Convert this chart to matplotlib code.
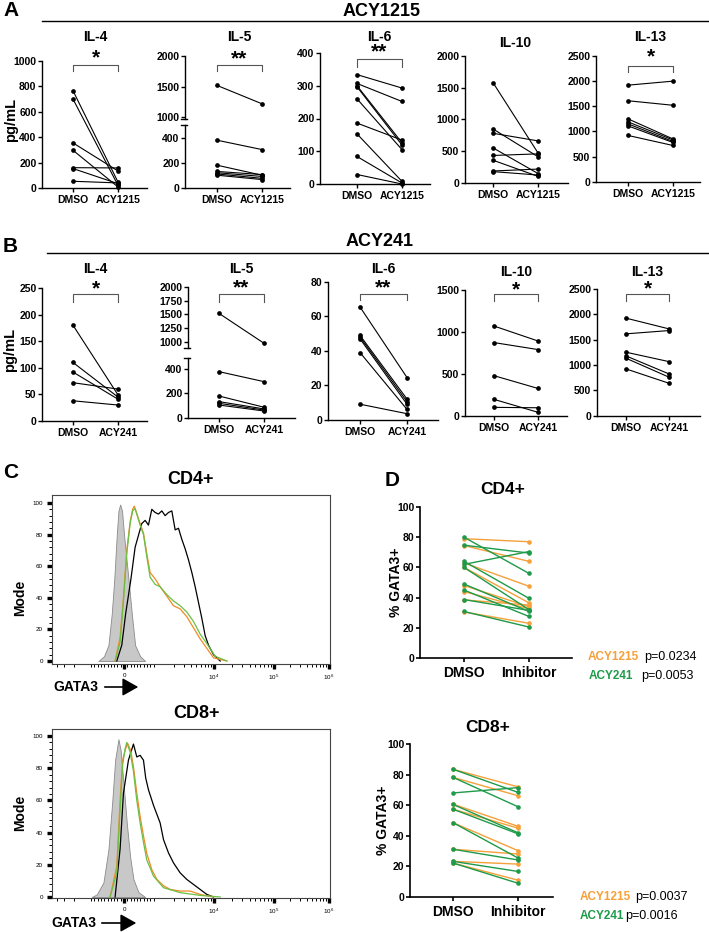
import numpy as np
import matplotlib
matplotlib.use('Agg')
import matplotlib.pyplot as plt
from matplotlib.lines import Line2D
from matplotlib.patches import FancyArrowPatch

plt.rcParams['font.family'] = ['Liberation Sans', 'DejaVu Sans']
plt.rcParams['font.weight'] = 'bold'

# %% data: panel A (ACY1215), pg/mL, DMSO vs drug per donor
a_il4_dmso = [766, 700, 355, 297, 160, 153, 53]
a_il4_drug = [47, 21, 134, 8, 158, 34, 40]
a_il5_dmso = [1520, 380, 180, 130, 120, 110, 100]
a_il5_drug = [1220, 305, 100, 105, 90, 75, 65]
a_il6_dmso = [334, 307, 300, 297, 260, 186, 153, 84, 29]
a_il6_drug = [293, 252, 126, 119, 105, 134, 8, 3, 0]
a_il10_dmso = [1580, 848, 780, 550, 430, 355, 185, 175]
a_il10_drug = [470, 410, 660, 145, 455, 100, 215, 121]
a_il13_dmso = [1920, 1610, 1250, 1190, 1150, 1110, 920]
a_il13_drug = [2000, 1520, 850, 830, 800, 780, 720]

# panel B (ACY241)
b_il4_dmso = [180, 110, 92, 72, 38]
b_il4_drug = [49, 45, 41, 60, 30]
b_il5_dmso = [1520, 378, 178, 132, 118, 104]
b_il5_drug = [976, 296, 86, 72, 63, 55]
b_il6_dmso = [65.5, 49, 48, 47, 39, 9]
b_il6_drug = [24.5, 12, 10.5, 9, 6, 3.5]
b_il10_dmso = [1071, 874, 480, 198, 103]
b_il10_drug = [893, 791, 328, 44, 98]
b_il13_dmso = [1925, 1615, 1253, 1180, 1134, 923]
b_il13_drug = [1713, 1680, 1067, 824, 760, 640]

# panel C: GATA3 histograms (display channel 0-1000, % of mode)
c_cd4_x_iso = [167, 187, 203, 215, 224, 233, 239, 245, 252, 259, 275, 287, 299, 317, 335]
c_cd4_y_iso = [0, 3, 10, 30, 52, 80, 95, 99, 95, 80, 52, 30, 10, 3, 0]
c_cd4_x_1215 = [227, 245, 257, 269, 281, 290, 296, 317, 329, 341, 353, 371, 389, 413, 437, 461, 485, 509, 533, 557, 581, 629]
c_cd4_y_1215 = [0, 15, 40, 70, 88, 96, 98, 87, 81, 68, 56, 52, 47, 41, 35, 33, 28, 21, 14, 8, 2, 0]
c_cd4_x_241 = [227, 245, 257, 269, 281, 290, 299, 317, 329, 341, 353, 371, 389, 413, 437, 461, 485, 509, 533, 557, 587, 629]
c_cd4_y_241 = [0, 12, 38, 68, 87, 95, 96.5, 86, 80, 66, 53, 48.5, 47, 42, 38, 35, 31, 25, 17, 11, 3, 0]
c_cd4_x_dmso = [233, 251, 265, 284, 299, 323, 335, 347, 359, 371, 383, 395, 407, 419, 431, 443, 455, 467, 479, 491, 503, 515, 527, 539, 551, 563, 581, 605]
c_cd4_y_dmso = [0, 10, 30, 52, 72, 87, 89, 86, 96, 94, 93, 95, 92, 94, 95, 83, 84, 77, 71, 64, 56, 47, 37, 27, 16, 10, 4, 0]

c_cd8_x_iso = [143, 161, 185, 203, 217, 227, 239, 247, 257, 269, 281, 293, 311, 335]
c_cd8_y_iso = [0, 1.6, 9, 29.5, 60, 85, 98, 91, 71, 46, 25, 11, 3, 0]
c_cd8_x_1215 = [209, 233, 245, 254, 263, 272, 283, 293, 305, 317, 329, 341, 359, 377, 401, 425, 461, 497, 533, 581]
c_cd8_y_1215 = [0, 19, 60, 85, 91, 95.5, 91, 81, 64.5, 50, 38, 27, 17, 11, 7, 4.7, 3.7, 3.7, 1.6, 0]
c_cd8_x_241 = [209, 233, 245, 254, 263, 269, 281, 293, 305, 317, 329, 341, 365, 401, 461, 533, 605]
c_cd8_y_241 = [0, 15, 55, 82, 92, 96, 90, 78, 60, 46, 34, 23, 13, 5.8, 2.7, 1, 0]
c_cd8_x_dmso = [227, 245, 257, 275, 293, 305, 317, 329, 337, 347, 365, 389, 401, 419, 437, 461, 485, 509, 533, 557, 581]
c_cd8_y_dmso = [0, 30, 64.5, 85, 95, 87, 88, 85, 74, 66.6, 57, 46, 35.7, 27.4, 21.2, 15, 10.9, 7.8, 4.7, 1.6, 0]
c_tick_pos = [259, 581, 797, 995]
c_tick_labels = ['0', r'$\mathregular{10^{4}}$', r'$\mathregular{10^{5}}$', r'$\mathregular{10^{6}}$']

# panel D: % GATA3+
d_cd4_1215_dmso = [79, 74.5, 63, 60, 48, 44, 38.5, 30.5]
d_cd4_1215_inh = [77, 64, 47.5, 36.5, 34, 32.5, 35, 23]
d_cd4_241_dmso = [80, 74.7, 62, 64, 60, 49, 45, 38.7, 30.8]
d_cd4_241_inh = [56, 69.5, 70.5, 39.5, 32, 30.8, 27.5, 31.5, 20.5]
d_cd8_1215_dmso = [83.5, 78.2, 60.7, 57.4, 48.6, 31.2, 23.3, 22.2]
d_cd8_1215_inh = [72, 66.2, 46.2, 45, 30.3, 28.1, 21.5, 11]
d_cd8_241_dmso = [83.5, 78.2, 68, 60.5, 57.4, 48.6, 31.2, 23.3, 22.2]
d_cd8_241_inh = [68.4, 59, 71.5, 42, 41.3, 25.5, 24.2, 16.7, 9]

ORANGE = '#f5a03a'
GREEN = '#1e9a4a'

W, H = 709, 932
fig = plt.figure(figsize=(W / 100, H / 100), dpi=100)


def fx(px):
    return px / W


def fy(py):
    return 1 - py / H


def box(l, t, r, b):
    return [l / W, 1 - b / H, (r - l) / W, (b - t) / H]


def paired(L, D, C, R, top, bottom, ylim, yticks, before, after, drug,
           xaxis=True, clip=False, color='black', ms=3.4, lw=0.8):
    ax = fig.add_axes(box(L, top, R, bottom))
    u = C - D
    ax.set_xlim((L - D) / u, (R - D) / u)
    ax.set_ylim(ylim)
    ax.set_yticks(yticks)
    ax.patch.set_alpha(0)
    for s in ['top', 'right']:
        ax.spines[s].set_visible(False)
    ax.spines['left'].set_linewidth(1.0)
    ax.spines['bottom'].set_linewidth(1.0)
    ax.tick_params(axis='y', length=3, width=1, labelsize=7.5, pad=1)
    if xaxis:
        ax.set_xticks([0, 1], ['DMSO', drug])
        ax.tick_params(axis='x', length=3, width=1, labelsize=7.5, pad=2)
    else:
        ax.spines['bottom'].set_visible(False)
        ax.set_xticks([])
    for b, a in zip(before, after):
        ax.plot([0, 1], [b, a], color=color, lw=lw, marker='o', ms=ms,
                mew=0, clip_on=clip)
    return ax


def bracket(ax, top, bottom, br, leg, star_py, stars):
    f = lambda py: (bottom - py) / (bottom - top)
    tr = ax.get_xaxis_transform()
    ax.plot([0, 0, 1, 1], [f(leg), f(br), f(br), f(leg)], transform=tr,
            color='#555555', lw=0.8, clip_on=False)
    ax.text(0.5, f(star_py), stars, transform=tr, ha='center', va='center',
            fontsize=15)


def title(D, C, py, s):
    fig.text(fx((D + C) / 2), fy(py), s, ha='center', va='center', fontsize=10)


def break_mark(ax, L, R, y):
    w = R - L
    ax.plot([-4 / w, 2 / w], [y, y], transform=ax.transAxes, color='black',
            lw=1.0, clip_on=False)


def header(letter, lx, ly, text, tx, ty, line_x, line_y):
    fig.text(fx(lx), fy(ly), letter, fontsize=15, va='center', ha='left')
    fig.text(fx(tx), fy(ty), text, fontsize=13, va='center', ha='center')
    fig.add_artist(Line2D([fx(line_x), 1], [fy(line_y), fy(line_y)],
                          color='black', lw=1.0))


# %% panel A
header('A', 3, 11, 'ACY1215', 382, 11, 42, 20.7)
fig.text(fx(11), fy(120), 'pg/mL', rotation=90, fontsize=10.5, ha='center', va='center')

ax = paired(42, 73, 118, 147, 61, 188, (0, 1000), range(0, 1001, 200),
            a_il4_dmso, a_il4_drug, 'ACY1215')
bracket(ax, 61, 188, 65, 71, 58, '*')
title(73, 118, 37.3, 'IL-4')

ax = paired(185, 217, 262, 290, 125.2, 187.7, (0, 500), [0, 200, 400],
            a_il5_dmso, a_il5_drug, 'ACY1215', clip=True)
break_mark(ax, 185, 290, 1)
ax = paired(185, 217, 262, 290, 56, 119.3, (967, 2000), [1000, 1500, 2000],
            a_il5_dmso, a_il5_drug, 'ACY1215', xaxis=False, clip=True)
break_mark(ax, 185, 290, 0)
bracket(ax, 56, 119.3, 65, 71, 59, '**')
title(217, 262, 37.3, 'IL-5')

ax = paired(320, 357, 402, 430, 53, 184, (0, 400), range(0, 401, 100),
            a_il6_dmso, a_il6_drug, 'ACY1215')
bracket(ax, 53, 184, 59.3, 66.7, 52, '**')
title(357, 402, 36.7, 'IL-6')

ax = paired(465, 493, 538, 568, 56, 182.7, (0, 2000), range(0, 2001, 500),
            a_il10_dmso, a_il10_drug, 'ACY1215')
title(493, 538, 43.3, 'IL-10')

ax = paired(596, 628, 673, 700, 56, 181.7, (0, 2500), range(0, 2501, 500),
            a_il13_dmso, a_il13_drug, 'ACY1215')
bracket(ax, 56, 181.7, 65.7, 71.7, 57, '*')
title(628, 673, 37.3, 'IL-13')

# %% panel B
header('B', 3, 247, 'ACY241', 380, 242, 47, 253)
fig.text(fx(10), fy(350), 'pg/mL', rotation=90, fontsize=10.5, ha='center', va='center')

ax = paired(42, 73, 118, 147, 288, 421, (0, 250), range(0, 251, 50),
            b_il4_dmso, b_il4_drug, 'ACY241')
bracket(ax, 288, 421, 294, 301.7, 289, '*')
title(73, 118, 269, 'IL-4')

ax = paired(188, 219, 264, 295, 358, 417.7, (0, 490), [0, 200, 400],
            b_il5_dmso, b_il5_drug, 'ACY241', clip=True)
break_mark(ax, 188, 295, 1)
ax = paired(188, 219, 264, 295, 287, 348, (890, 2000), range(1000, 2001, 250),
            b_il5_dmso, b_il5_drug, 'ACY241', xaxis=False, clip=True)
break_mark(ax, 188, 295, 0)
bracket(ax, 287, 348, 294, 301.7, 288, '**')
title(219, 264, 269, 'IL-5')

ax = paired(328, 360, 407, 438, 282, 419.7, (0, 80), range(0, 81, 20),
            b_il6_dmso, b_il6_drug, 'ACY241')
bracket(ax, 282, 419.7, 294, 300, 288, '**')
title(360, 407, 269, 'IL-6')

ax = paired(465, 494, 538, 567, 290, 416, (0, 1500), range(0, 1501, 500),
            b_il10_dmso, b_il10_drug, 'ACY241')
bracket(ax, 290, 416, 294.3, 300.5, 290, '*')
title(494, 538, 271.7, 'IL-10')

ax = paired(597, 626, 669, 700, 289, 415.7, (0, 2500), range(0, 2501, 500),
            b_il13_dmso, b_il13_drug, 'ACY241')
bracket(ax, 289, 415.7, 294.3, 300.5, 289, '*')
title(626, 669, 271.7, 'IL-13')


# %% panel C
def flow_minor_ticks():
    # biexponential-like display: linear zone round 0, log decades above
    dec = {3: 377, 4: 581, 5: 797, 6: 995}
    pos = [259 + v / 1000 * (377 - 259) for v in range(-900, 1000, 100) if v != 0]
    for k in (3, 4, 5):
        for m in range(2, 10):
            pos.append(dec[k] + np.log10(m) * (dec[k + 1] - dec[k]))
    for m in range(2, 10):
        p = 141 - np.log10(m) * 204
        if p > 0:
            pos.append(p)
    pos.append(141)
    return pos


def flow_panel(top, bottom, zero_px, hundred_px, curves, iso, title_xy, mode_y, gata_y, gata_x):
    ax = fig.add_axes(box(52, top, 330, bottom))
    unit = (zero_px - hundred_px) / 100
    ax.set_ylim(-(bottom - zero_px) / unit, 100 + (hundred_px - top) / unit)
    ax.set_xlim(0, 1000)
    ax.fill_between(iso[0], iso[1], color='#c8c8c8', edgecolor='#8a8a8a', lw=0.6)
    for x, y, c in curves:
        ax.plot(x, y, color=c, lw=0.9)
    for s in ax.spines.values():
        s.set_linewidth(0.8)
        s.set_color('#444444')
    ax.set_yticks(range(0, 101, 20))
    ax.set_yticks(np.arange(0, 101, 4), minor=True)
    ax.set_xticks(c_tick_pos, c_tick_labels)
    ax.set_xticks(flow_minor_ticks(), minor=True)
    ax.tick_params(which='major', length=3.5, width=2.4, labelsize=4.5, pad=3)
    ax.tick_params(which='minor', length=2, width=0.7)
    for lab in ax.get_xticklabels() + ax.get_yticklabels():
        lab.set_fontweight('normal')
    fig.text(fx(title_xy[0]), fy(title_xy[1]), title_xy[2], ha='center', va='center', fontsize=13)
    fig.text(fx(20), fy(mode_y), 'Mode', rotation=90, ha='center', va='center', fontsize=10)
    fig.text(fx(gata_x[0]), fy(gata_y), 'GATA3', ha='left', va='center', fontsize=10)
    fig.add_artist(FancyArrowPatch((fx(gata_x[1]), fy(gata_y)), (fx(gata_x[2]), fy(gata_y)),
                                   transform=fig.transFigure, color='black', lw=1.2,
                                   arrowstyle='-|>,head_length=0.8,head_width=0.45',
                                   mutation_scale=12))
    return ax


fig.text(fx(3), fy(473), 'C', fontsize=15, va='center', ha='left')
flow_panel(495, 664, 661, 503,
           [(c_cd4_x_dmso, c_cd4_y_dmso, 'black'),
            (c_cd4_x_1215, c_cd4_y_1215, '#f08a24'),
            (c_cd4_x_241, c_cd4_y_241, '#6cbf45')],
           (c_cd4_x_iso, c_cd4_y_iso), (190, 480, 'CD4+'), 598, 687, (53, 102, 141))
flow_panel(729, 898, 897, 736,
           [(c_cd8_x_dmso, c_cd8_y_dmso, 'black'),
            (c_cd8_x_1215, c_cd8_y_1215, '#f08a24'),
            (c_cd8_x_241, c_cd8_y_241, '#6cbf45')],
           (c_cd8_x_iso, c_cd8_y_iso), (197, 713, 'CD8+'), 813, 923, (51, 99, 139))


# %% panel D
def gata_panel(L, D, C, R, top, bottom, sets, title_xy, ylab_x, legend):
    ax = None
    for before, after, col in sets:
        if ax is None:
            ax = paired(L, D, C, R, top, bottom, (0, 100), range(0, 101, 20),
                        before, after, 'Inhibitor', color=col, ms=3.3, lw=1.0)
        else:
            for b, a in zip(before, after):
                ax.plot([0, 1], [b, a], color=col, lw=1.0, marker='o', ms=3.3,
                        mew=0, clip_on=False)
    ax.spines['left'].set_linewidth(1.2)
    ax.spines['bottom'].set_linewidth(1.2)
    ax.tick_params(axis='y', labelsize=7.5, width=1.2)
    ax.tick_params(axis='x', labelsize=10, width=1.2, pad=3)
    fig.text(fx(title_xy[0]), fy(title_xy[1]), title_xy[2], ha='center', va='center', fontsize=12.5)
    fig.text(fx(ylab_x), fy((top + bottom) / 2), '% GATA3+', rotation=90,
             ha='center', va='center', fontsize=10)
    for (x1, x2, y, name, p, col) in legend:
        fig.text(fx(x1), fy(y), name, color=col, fontsize=8.5, va='center')
        fig.text(fx(x2), fy(y), p, color='black', fontsize=9, fontweight='normal', va='center')


fig.text(fx(385), fy(480), 'D', fontsize=15, va='center', ha='left')
gata_panel(420, 464, 529, 572, 507, 658,
           [(d_cd4_1215_dmso, d_cd4_1215_inh, ORANGE),
            (d_cd4_241_dmso, d_cd4_241_inh, GREEN)],
           (503, 490, 'CD4+'), 396,
           [(588, 644, 657, 'ACY1215', 'p=0.0234', ORANGE),
            (589, 641, 676, 'ACY241', 'p=0.0053', GREEN)])
gata_panel(410, 453, 518, 553, 744, 897,
           [(d_cd8_1215_dmso, d_cd8_1215_inh, ORANGE),
            (d_cd8_241_dmso, d_cd8_241_inh, GREEN)],
           (488, 728, 'CD8+'), 383,
           [(580, 635, 897, 'ACY1215', 'p=0.0037', ORANGE),
            (580, 625, 916, 'ACY241', 'p=0.0016', GREEN)])

fig.savefig('out.png', dpi=100)
